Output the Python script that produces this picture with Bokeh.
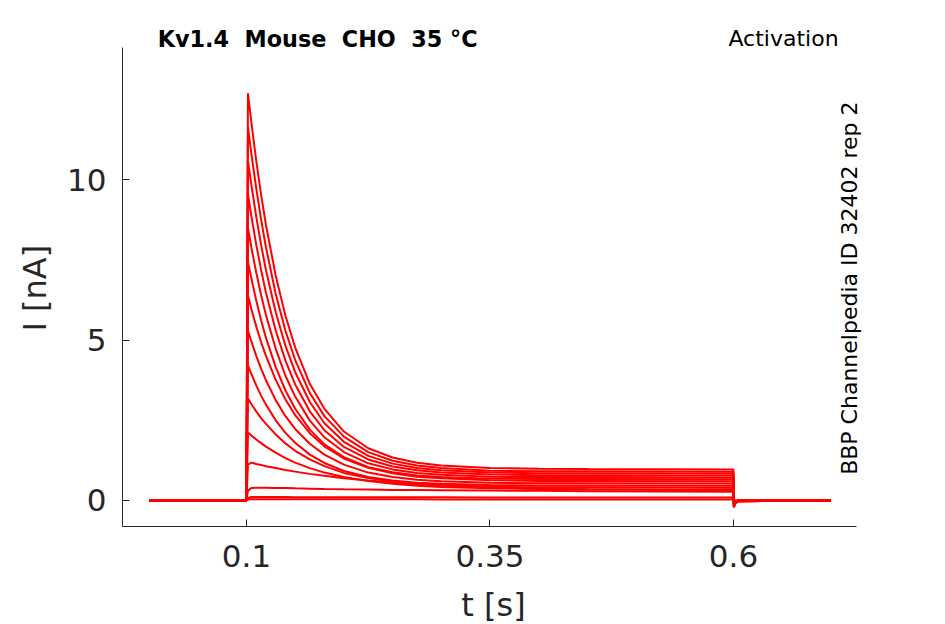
from bokeh.plotting import figure
from bokeh.models import Range1d, FixedTicker, Label
from bokeh.embed import file_html
from bokeh.resources import INLINE

# ---- data ----
time_s = [0.0, 0.0999, 0.1015, 0.105, 0.11, 0.115, 0.12, 0.13, 0.14, 0.15, 0.165, 0.18,
          0.2, 0.225, 0.25, 0.275, 0.3, 0.35, 0.4, 0.45, 0.5999, 0.6004, 0.6015, 0.605, 0.7]

trace_01 = [0, 0, 12.70, 11.79, 10.60, 9.54, 8.59, 7.01, 5.76, 4.77, 3.64, 2.86, 2.15, 1.63, 1.34, 1.18, 1.09, 1.01, 0.99, 0.98, 0.97, -0.22, -0.10, -0.02, 0.0]
trace_02 = [0, 0, 11.65, 10.81, 9.73, 8.76, 7.89, 6.44, 5.29, 4.38, 3.35, 2.63, 1.99, 1.51, 1.24, 1.09, 1.01, 0.93, 0.91, 0.91, 0.90, -0.21, -0.09, -0.02, 0.0]
trace_03 = [0, 0, 10.60, 9.84, 8.85, 7.97, 7.18, 5.87, 4.82, 4.00, 3.07, 2.41, 1.83, 1.39, 1.15, 1.01, 0.94, 0.87, 0.85, 0.85, 0.84, -0.20, -0.09, -0.02, 0.0]
trace_04 = [0, 0, 9.55, 8.87, 7.98, 7.19, 6.48, 5.30, 4.36, 3.62, 2.78, 2.19, 1.67, 1.28, 1.06, 0.94, 0.87, 0.81, 0.79, 0.79, 0.78, -0.19, -0.08, -0.02, 0.0]
trace_05 = [0, 0, 8.50, 7.89, 7.11, 6.41, 5.78, 4.73, 3.89, 3.24, 2.49, 1.97, 1.51, 1.16, 0.97, 0.86, 0.80, 0.74, 0.73, 0.73, 0.72, -0.18, -0.08, -0.02, 0.0]
trace_06 = [0, 0, 7.45, 6.92, 6.24, 5.62, 5.07, 4.16, 3.43, 2.86, 2.21, 1.75, 1.35, 1.04, 0.88, 0.78, 0.73, 0.68, 0.67, 0.67, 0.66, -0.17, -0.07, -0.01, 0.0]
trace_07 = [0, 0, 6.39, 5.97, 5.43, 4.94, 4.51, 3.76, 3.15, 2.66, 2.10, 1.69, 1.31, 1.02, 0.85, 0.74, 0.69, 0.63, 0.61, 0.61, 0.60, -0.16, -0.07, -0.01, 0.0]
trace_08 = [0, 0, 5.30, 4.96, 4.51, 4.11, 3.75, 3.13, 2.63, 2.23, 1.77, 1.43, 1.12, 0.87, 0.73, 0.65, 0.60, 0.55, 0.54, 0.54, 0.53, -0.15, -0.06, -0.01, 0.0]
trace_09 = [0, 0, 4.21, 3.94, 3.59, 3.27, 2.99, 2.50, 2.11, 1.80, 1.43, 1.17, 0.92, 0.73, 0.62, 0.55, 0.52, 0.48, 0.47, 0.47, 0.46, -0.13, -0.05, -0.01, 0.0]
trace_10 = [0, 0, 3.18, 3.01, 2.78, 2.57, 2.39, 2.06, 1.78, 1.55, 1.28, 1.07, 0.86, 0.70, 0.59, 0.52, 0.48, 0.43, 0.41, 0.41, 0.40, -0.12, -0.05, -0.01, 0.0]
trace_11 = [0, 0, 2.12, 2.03, 1.90, 1.79, 1.68, 1.49, 1.32, 1.18, 1.01, 0.87, 0.73, 0.61, 0.52, 0.46, 0.42, 0.38, 0.36, 0.35, 0.34, -0.10, -0.04, -0.01, 0.0]
trace_12 = [0, 0, 1.12, 1.18, 1.14, 1.11, 1.07, 1.01, 0.95, 0.90, 0.83, 0.77, 0.69, 0.62, 0.56, 0.51, 0.47, 0.41, 0.37, 0.35, 0.31, -0.08, -0.03, 0.0, 0.0]
trace_13 = [0, 0, 0.30, 0.39, 0.40, 0.40, 0.40, 0.39, 0.39, 0.38, 0.37, 0.36, 0.35, 0.34, 0.33, 0.325, 0.32, 0.31, 0.30, 0.29, 0.27, -0.06, -0.02, 0.0, 0.0]
trace_14 = [0, 0, 0.08, 0.11, 0.11, 0.11, 0.11, 0.11, 0.11, 0.10, 0.10, 0.10, 0.10, 0.10, 0.10, 0.10, 0.10, 0.09, 0.09, 0.09, 0.09, -0.03, -0.01, 0.0, 0.0]
trace_15 = [0, 0, 0.03, 0.04, 0.04, 0.04, 0.04, 0.04, 0.04, 0.04, 0.04, 0.04, 0.04, 0.04, 0.04, 0.04, 0.03, 0.03, 0.03, 0.03, 0.03, -0.01, 0.0, 0.0, 0.0]

traces = [trace_01, trace_02, trace_03, trace_04, trace_05, trace_06, trace_07, trace_08,
          trace_09, trace_10, trace_11, trace_12, trace_13, trace_14, trace_15]

x_ticks = [0.1, 0.35, 0.6]
x_tick_labels = ["0.1", "0.35", "0.6"]
y_ticks = [0, 5, 10]
y_tick_labels = ["0", "5", "10"]

# double gaps kept with a no-break space (SVG collapses plain double spaces)
title_left = "Kv1.4 \u00a0Mouse \u00a0CHO \u00a035 \u00b0C"
title_right = "Activation"
side_note = "BBP Channelpedia ID 32402 rep 2"

# ---- figure ----
FONT = "DejaVu Sans"
GRAY = "#262626"

p = figure(frame_width=742, frame_height=497,
           x_range=Range1d(-0.0273, 0.7345), y_range=Range1d(-0.811, 14.687),
           output_backend="svg", toolbar_location=None,
           min_border_left=122, min_border_right=81, min_border_top=29, min_border_bottom=98)
p.outline_line_color = None
p.grid.grid_line_color = None
p.background_fill_color = "white"
p.border_fill_color = "white"

for tr in traces:
    p.line(time_s, tr, line_color="#ff0000", line_width=2.0)

# axes
for ax in (p.xaxis, p.yaxis):
    ax.axis_line_color = GRAY
    ax.axis_line_width = 1
    ax.major_tick_line_color = GRAY
    ax.major_tick_in = 7
    ax.major_tick_out = 0
    ax.minor_tick_line_color = None
    ax.major_label_text_font = FONT
    ax.major_label_text_font_size = "31px"
    ax.major_label_text_color = GRAY
    ax.axis_label_text_font = FONT
    ax.axis_label_text_font_size = "32px"
    ax.axis_label_text_font_style = "normal"
    ax.axis_label_text_color = GRAY

p.xaxis.bounds = (-0.0273, 0.7263)
p.yaxis.bounds = (-0.811, 14.125)
p.xaxis.ticker = FixedTicker(ticks=x_ticks)
p.xaxis.major_label_overrides = dict(zip(x_ticks, x_tick_labels))
p.yaxis.ticker = FixedTicker(ticks=y_ticks)
p.yaxis.major_label_overrides = dict(zip(y_ticks, y_tick_labels))
p.xaxis.axis_label = "t [s]"
p.yaxis.axis_label = "I [nA]\u00a0\u00a0"
p.xaxis.major_label_standoff = 18
p.xaxis.axis_label_standoff = 16
p.yaxis.major_label_standoff = 16
p.yaxis.axis_label_standoff = 10

p.add_layout(Label(x=0.0088, y=14.38, text=title_left, text_font=FONT, text_font_size="22.3px",
                   text_font_style="bold", text_color="black", text_align="left",
                   text_baseline="alphabetic"))
p.add_layout(Label(x=0.7079, y=14.40, text=title_right, text_font=FONT, text_font_size="22px",
                   text_color="black", text_align="right", text_baseline="alphabetic"))
p.add_layout(Label(x=0.7190, y=6.62, text=side_note, text_font=FONT, text_font_size="22px",
                   text_color="black", text_align="center", text_baseline="alphabetic",
                   angle=1.5707963))

open("out.html", "w").write(file_html(p, INLINE))
